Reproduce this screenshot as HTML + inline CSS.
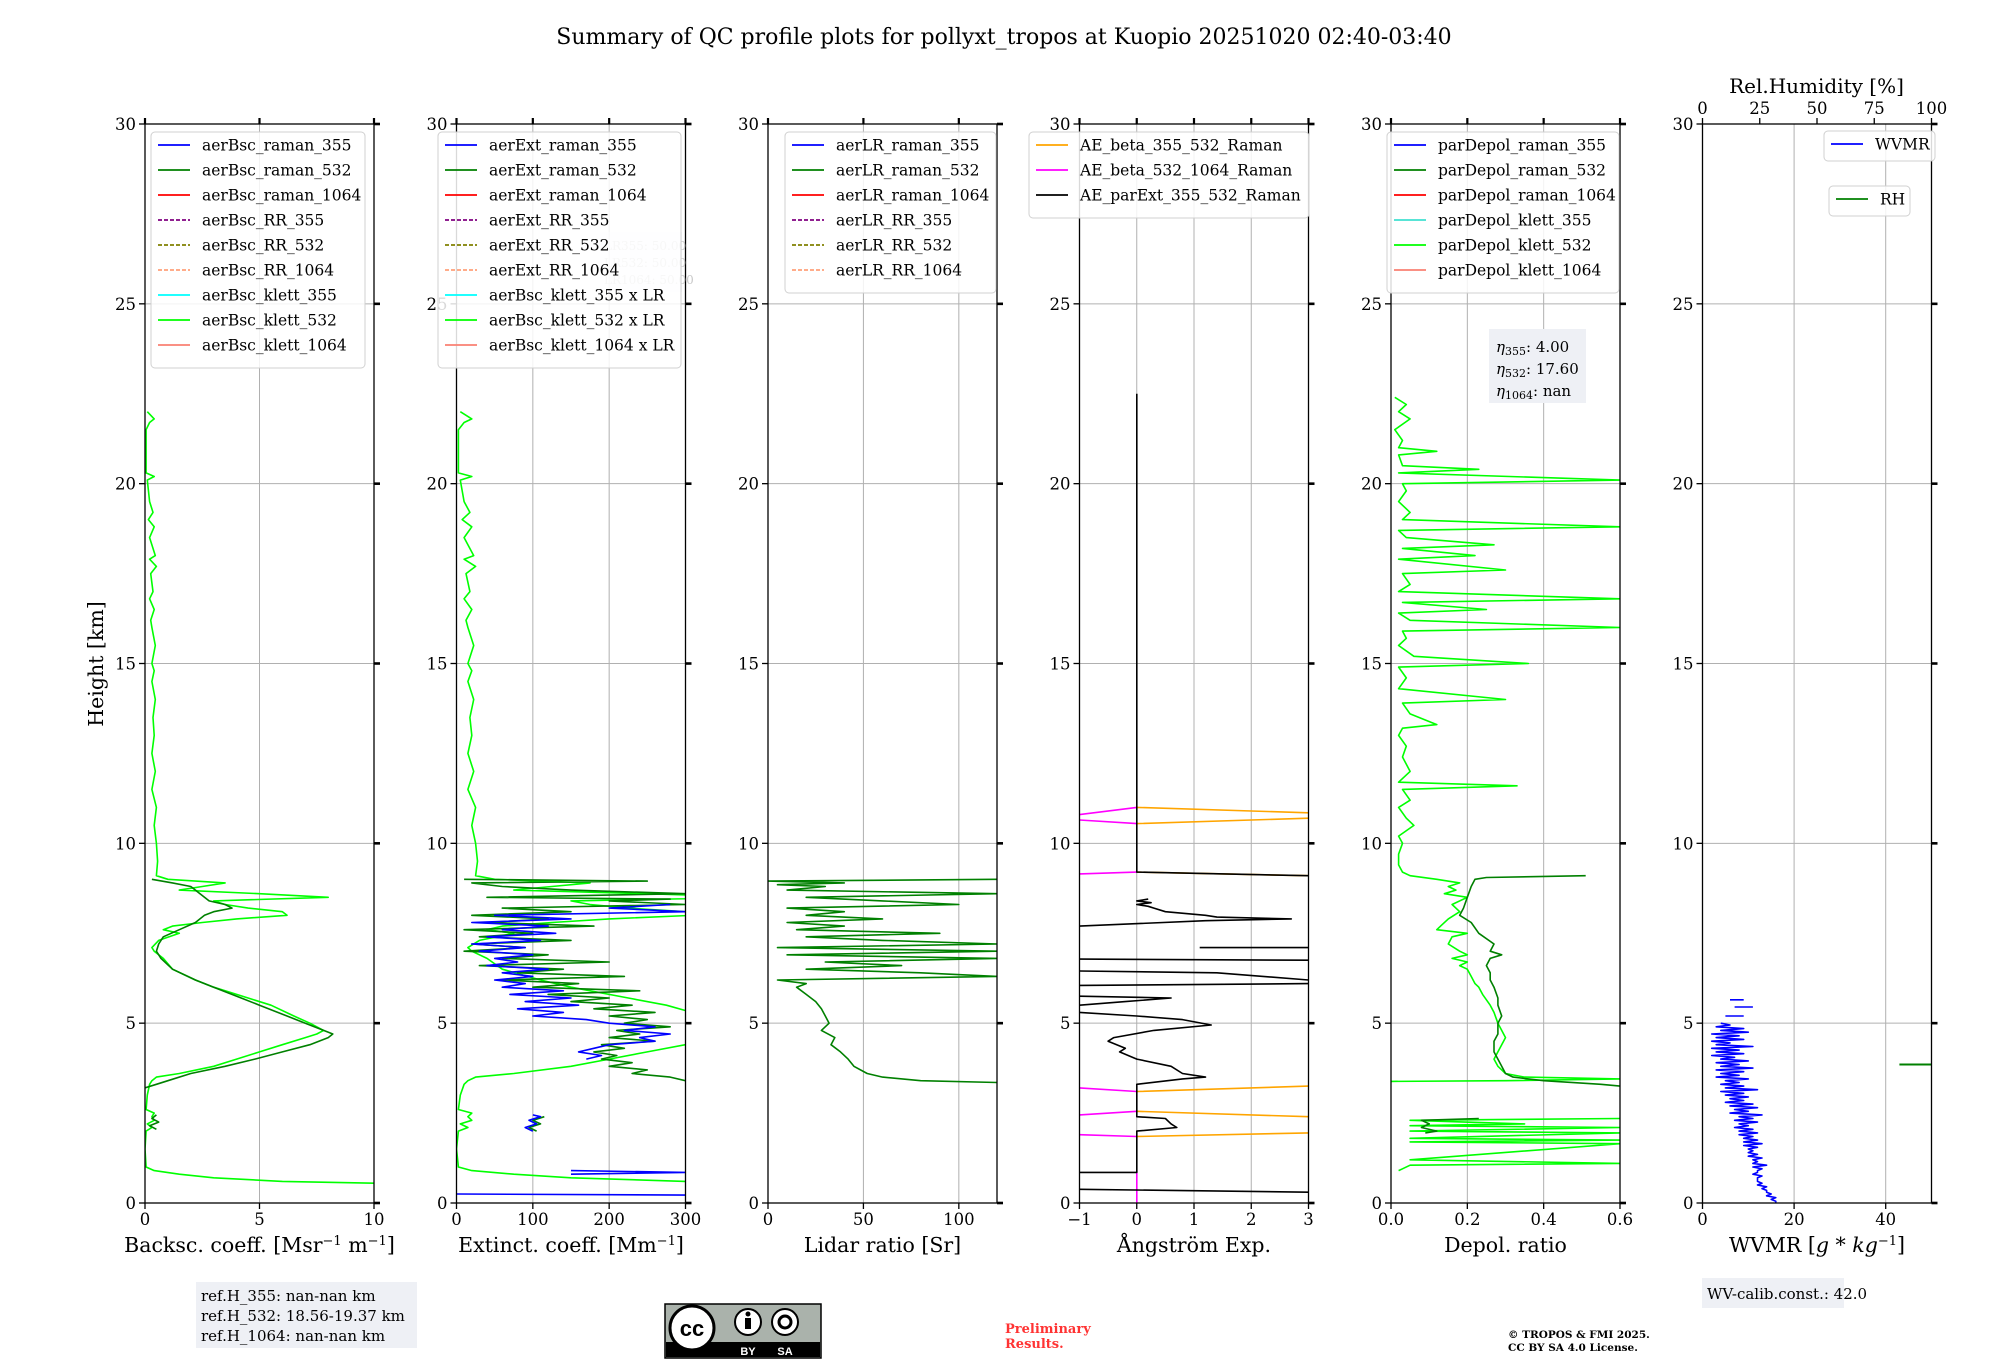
<!DOCTYPE html>
<html><head><meta charset="utf-8">
<style>
html,body{margin:0;padding:0;background:#fff;}
svg{display:block;font-family:"DejaVu Serif","Liberation Serif",serif;}
</style></head>
<body>
<svg id="fig" xmlns="http://www.w3.org/2000/svg" width="2000" height="1360" viewBox="0 0 2000 1360">
<rect x="0" y="0" width="2000" height="1360" fill="#fff"/>
<text x="1004" y="44" font-size="22" text-anchor="middle">Summary of QC profile plots for pollyxt_tropos at Kuopio 20251020 02:40-03:40</text>
<text transform="translate(103,664) rotate(-90)" font-size="20.5" text-anchor="middle">Height [km]</text>
</svg>
<script>
// ---------------- data ----------------
const heightTicks = [0,5,10,15,20,25,30];
// Panel 1: backscatter
const bscKlett532H = [22,21.8,21.7,21.5,20.3,20.2,20.1,19.5,19.2,19.0,18.8,18.5,18.0,17.9,17.7,17.5,17.0,16.8,16.5,16.2,16.0,15.5,15.0,14.8,14.5,14.0,13.5,13.0,12.5,12.0,11.5,11.0,10.5,10.0,9.5,9.1,9.0,8.9,8.8,8.7,8.6,8.5,8.4,8.3,8.2,8.1,8.0,7.9,7.8,7.7,7.6,7.5,7.3,7.1,7.0,6.8,6.5,6.2,6.0,5.7,5.5,5.2,5.0,4.8,4.7,4.6,4.4,4.2,4.0,3.8,3.6,3.5,3.4,3.3,3.0,2.6,2.5,2.4,2.3,2.2,2.1,2.0,1.5,1.0,0.9,0.8,0.7,0.6,0.55];
const bscKlett532V = [0.1,0.4,0.2,0.05,0.05,0.4,0.1,0.2,0.35,0.15,0.4,0.2,0.45,0.2,0.5,0.25,0.35,0.2,0.4,0.25,0.3,0.45,0.3,0.4,0.3,0.45,0.35,0.4,0.3,0.45,0.3,0.5,0.4,0.5,0.55,0.5,1.0,3.5,2.5,1.5,5,8.0,3,3.5,4.5,6.0,6.2,4,2.5,1.2,0.8,1.5,0.6,0.3,0.4,0.8,1.2,2.2,3,4.5,5.5,6.5,7.2,7.8,7.5,7.0,6,5,4,3,1.5,0.5,0.3,0.2,0.1,0.05,0.4,0.3,0.4,0.1,0.3,0.05,0,0.05,0.4,1.5,3,6,10];
const bscRaman532H = [9.0,8.9,8.8,8.6,8.4,8.3,8.2,8.1,8.0,7.8,7.6,7.4,7.2,7.0,6.8,6.5,6.2,6.0,5.7,5.5,5.2,5.0,4.8,4.7,4.6,4.4,4.2,4.0,3.8,3.6,3.4,3.3,3.2];
const bscRaman532V = [0.3,1.2,2.0,2.4,2.8,3.5,3.8,3.0,2.6,2.2,1.5,0.8,0.6,0.5,0.7,1.2,2.2,3.0,4.2,5.0,6.2,7.0,7.8,8.2,8.0,7.2,6.0,4.8,3.5,2.0,1.0,0.5,0.0];
const bscRaman532LowH = [2.45,2.35,2.25,2.15,2.05];
const bscRaman532LowV = [0.5,0.3,0.6,0.2,0.5];
// Panel 2: extinction
const extKlett532H = bscKlett532H;
const extKlett532V = [5,20,10,2.5,2.5,20,5,10,17.5,7.5,20,10,22.5,10,25,12.5,17.5,10,20,12.5,15,22.5,15,20,15,22.5,17.5,20,15,22.5,15,25,20,25,27.5,25,50,175,125,75,250,400,150,175,225,300,310,200,125,60,40,75,30,15,20,40,60,110,150,225,275,325,360,390,375,350,300,250,200,150,75,25,15,10,5,2.5,20,15,20,5,15,2.5,0,2.5,20,75,150,300,500];
const extRaman532H = [9.0,8.95,8.9,8.8,8.7,8.6,8.5,8.45,8.4,8.3,8.2,8.1,8.0,7.9,7.8,7.7,7.6,7.5,7.4,7.3,7.2,7.1,7.0,6.9,6.8,6.7,6.6,6.5,6.4,6.3,6.2,6.1,6.0,5.9,5.8,5.7,5.6,5.5,5.4,5.3,5.2,5.1,5.0,4.9,4.8,4.7,4.6,4.5,4.4,4.3,4.2,4.1,4.0,3.9,3.8,3.7,3.6,3.5,3.4,null,2.4,2.3,2.2,2.1,2.0];
const extRaman532V = [10,250,20,60,150,300,40,280,200,300,60,150,20,120,40,180,10,100,30,150,20,90,10,120,60,200,30,140,80,220,60,160,100,240,120,200,150,230,180,260,200,250,220,280,210,240,200,260,190,220,180,210,190,230,200,250,230,280,300,null,115,100,110,95,105];
const extRaman355H = [8.3,8.2,8.1,8.0,7.9,7.8,7.7,7.6,7.5,7.4,7.3,7.2,7.1,7.0,6.9,6.8,6.7,6.6,6.5,6.4,6.3,6.2,6.1,6.0,5.9,5.8,5.7,5.6,5.5,5.4,5.3,5.2,5.1,5.0,4.9,4.8,4.7,4.6,4.5,4.4,4.3,4.2,4.1,4.0,null,2.45,2.4,2.3,2.2,2.1,2.0,null,0.9,0.85,0.8,null,0.25,0.22];
const extRaman355V = [280,200,300,50,150,20,120,60,130,40,110,20,90,30,100,50,80,40,120,60,100,50,90,60,140,70,150,90,160,80,140,100,170,200,260,220,280,240,260,200,180,160,190,170,null,100,110,95,105,90,100,null,150,300,150,null,0,300];
// Panel 3: lidar ratio
const lr532H = [9.0,8.95,8.9,8.85,8.8,8.7,8.6,8.5,8.4,8.3,8.2,8.1,8.0,7.9,7.8,7.7,7.6,7.5,7.4,7.3,7.2,7.1,7.0,6.9,6.8,6.7,6.6,6.5,6.4,6.3,6.2,6.1,6.0,5.8,5.6,5.4,5.2,5.0,4.8,4.6,4.4,4.2,4.0,3.8,3.6,3.5,3.4,3.35];
const lr532V = [120,0,40,5,30,10,120,20,60,100,10,40,20,60,10,40,15,90,20,60,120,5,120,10,120,30,70,20,80,120,5,20,15,20,25,28,30,32,28,35,33,38,42,45,52,60,80,120];
// Panel 4: Angstrom exponents
const aeParExtH = [22.5,9.2,9.1,null,8.45,8.4,8.35,8.3,8.25,8.2,8.1,8.0,7.95,7.9,7.85,7.7,null,7.1,7.1,null,6.78,6.75,null,6.45,6.4,6.2,null,6.05,6.1,null,5.75,5.7,5.6,5.5,null,5.3,5.2,5.1,4.95,4.8,4.6,4.5,4.3,4.2,4.0,3.8,3.6,3.5,3.45,3.3,2.4,2.35,2.2,2.1,2.0,0.85,0.85,null,0.38,0.3];
const aeParExtV = [0,0,3,null,0.2,0.0,0.25,0.0,0.2,0.3,0.5,1.2,1.4,2.7,1.2,-1,null,1.1,3,null,-1,3,null,-1,1.4,3,null,-1,3,null,-1,0.6,-0.2,-1,null,-1,0,0.8,1.3,0.3,-0.4,-0.5,-0.2,-0.3,0,0.6,0.8,1.2,0.8,0,0,0.5,0.6,0.7,0,0,-1,null,-1,3];
const aeBeta532H = [10.8,11.0,null,10.65,10.55,null,9.15,9.2,null,3.2,3.1,null,2.45,2.55,null,1.9,1.85,null,0.9,0.0];
const aeBeta532V = [-1,0,null,-1,0,null,-1,0,null,-1,0,null,-1,0,null,-1,0,null,0,0];
const aeBeta355H = [11.0,10.85,null,10.55,10.7,null,9.2,9.1,null,3.1,3.25,null,2.55,2.4,null,1.85,1.95];
const aeBeta355V = [0,3,null,0,3,null,0,3,null,0,3,null,0,3,null,0,3];
// Panel 5: depolarisation
const depKlett532H = [22.4,22.2,22.0,21.8,21.5,21.2,21.0,20.9,20.8,20.5,20.4,20.3,20.1,20.0,19.8,19.5,19.2,19.0,18.8,18.7,18.5,18.3,18.2,18.0,17.9,17.6,17.5,17.2,17.0,16.8,16.7,16.5,16.4,16.2,16.0,15.9,15.7,15.5,15.2,15.0,14.9,14.6,14.3,14.0,13.9,13.6,13.3,13.2,13.0,12.7,12.4,12.0,11.7,11.6,11.5,11.2,11.0,10.7,10.5,10.2,10.0,9.7,9.4,9.2,9.1,9.0,8.9,8.8,8.7,8.6,8.5,8.3,8.1,7.9,7.7,7.6,7.5,7.4,7.2,7.0,6.9,6.8,6.7,6.6,6.5,6.3,6.1,6.0,5.8,5.5,5.3,5.0,4.8,4.6,4.4,4.2,4.0,3.8,3.6,3.5,3.45,3.4,3.38,null,2.35,2.3,2.2,2.15,2.1,2.0,1.95,1.8,1.75,1.7,1.65,1.2,1.1,1.05,0.95,0.9];
const depKlett532V = [0.01,0.04,0.02,0.05,0.01,0.03,0.02,0.12,0.02,0.03,0.23,0.02,0.6,0.03,0.04,0.02,0.05,0.03,0.6,0.02,0.04,0.27,0.03,0.22,0.02,0.3,0.03,0.05,0.02,0.6,0.03,0.25,0.02,0.05,0.6,0.03,0.04,0.02,0.06,0.36,0.02,0.04,0.02,0.3,0.03,0.05,0.12,0.03,0.02,0.04,0.03,0.05,0.02,0.33,0.03,0.05,0.02,0.04,0.06,0.02,0.03,0.02,0.02,0.03,0.05,0.12,0.18,0.15,0.17,0.14,0.2,0.16,0.18,0.15,0.13,0.12,0.2,0.16,0.15,0.18,0.2,0.16,0.2,0.18,0.2,0.21,0.22,0.23,0.24,0.26,0.27,0.28,0.29,0.3,0.29,0.28,0.27,0.28,0.3,0.35,0.6,0.3,0.0,null,0.6,0.05,0.35,0.05,0.6,0.05,0.6,0.05,0.6,0.05,0.6,0.05,0.6,0.05,0.03,0.02];
const depRaman532H = [9.1,9.05,9.0,8.8,8.5,8.2,8.0,7.8,7.5,7.2,7.0,6.9,6.8,6.6,6.4,6.2,6.0,5.7,5.5,5.2,5.0,4.7,4.5,4.2,4.0,3.8,3.6,3.5,3.4,3.3,3.25,null,2.35,2.3,2.2,2.1,2.0,1.95];
const depRaman532V = [0.51,0.25,0.22,0.21,0.2,0.19,0.18,0.21,0.23,0.27,0.26,0.29,0.26,0.25,0.26,0.26,0.27,0.28,0.28,0.29,0.28,0.28,0.27,0.27,0.28,0.29,0.3,0.32,0.4,0.55,0.6,null,0.23,0.08,0.1,0.08,0.12,0.09];
// Panel 6: water vapour
const wvmrH = [5.65,5.65,null,5.45,5.45,null,5.2,5.2,null,5.0,4.95,4.9,4.85,4.8,4.75,4.7,4.65,4.6,4.55,4.5,4.45,4.4,4.35,4.3,4.25,4.2,4.15,4.1,4.05,4.0,3.95,3.9,3.85,3.8,3.75,3.7,3.65,3.6,3.55,3.5,3.45,3.4,3.35,3.3,3.25,3.2,3.15,3.1,3.05,3.0,2.95,2.9,2.85,2.8,2.75,2.7,2.65,2.6,2.55,2.5,2.45,2.4,2.35,2.3,2.25,2.2,2.15,2.1,2.05,2.0,1.95,1.9,1.85,1.8,1.75,1.7,1.65,1.6,1.55,1.5,1.45,1.4,1.35,1.3,1.25,1.2,1.15,1.1,1.05,1.0,0.95,0.9,0.85,0.8,0.75,0.7,0.65,0.6,0.55,0.5,0.45,0.4,0.35,0.3,0.25,0.2,0.15,0.1,0.05,0.0];
const wvmrV = [6,9,null,7,11,null,5,9,null,4,6,3,9,4,10,2,8,3,9,2,6,3,11,2,8,3,9,2,7,4,10,3,8,4,11,3,9,4,8,3,10,5,8,4,9,5,12,4,9,5,10,6,9,5,11,6,12,7,10,6,13,8,11,7,12,8,10,7,11,8,12,8,11,9,12,9,13,9,12,10,11,10,12,10,13,11,12,11,14,11,13,12,12,11,13,12,12,12,13,12,14,13,14,14,15,14,16,15,16,16];
const rhH = [3.85,3.85];
const rhV = [86,100];
// axes definitions
const p1Ticks = [0,5,10], p2Ticks = [0,100,200,300], p3Ticks = [0,50,100];
const p4Ticks = [-1,0,1,2,3], p5Ticks = [0,0.2,0.4,0.6], p6Ticks = [0,20,40], rhTicks = [0,25,50,75,100];
const p4Labels = ['\u22121','0','1','2','3'], p5Labels = ['0.0','0.2','0.4','0.6'];

// ---------------- drawing ----------------
const NS = 'http://www.w3.org/2000/svg';
const svg = document.getElementById('fig');
const Y0 = 1203, Y30 = 124;
function yS(h){ return Y0 + (Y30 - Y0) * h / 30; }
function mk(tag, attrs, parent){
  const e = document.createElementNS(NS, tag);
  for (const k in attrs) e.setAttribute(k, attrs[k]);
  (parent || svg).appendChild(e);
  return e;
}
const panels = [];
function makePanel(idx, left, xmin, xmax, ticks, labels, xlabel){
  const W = 229;
  const p = {left, right: left + W, xmin, xmax};
  p.x = v => left + (v - xmin) / (xmax - xmin) * W;
  const g = mk('g', {});
  
  
  p.g = g;
  ticks.forEach(t => {
    const l = mk('line', {x1: p.x(t), x2: p.x(t), y1: Y30, y2: Y0, stroke: '#b0b0b0', 'stroke-width': 1}, g);
    
    
  });
  heightTicks.forEach(h => {
    const l = mk('line', {x1: left, x2: left + W, y1: yS(h), y2: yS(h), stroke: '#b0b0b0', 'stroke-width': 1}, g);
    
    
  });
  const cp = mk('clipPath', {id: 'clip' + idx}, g);
  mk('rect', {x: left, y: Y30, width: W, height: Y0 - Y30}, cp);
  p.data = mk('g', {'clip-path': 'url(#clip' + idx + ')'}, g);
  
  
  const sp = mk('rect', {x: left, y: Y30, width: W, height: Y0 - Y30, fill: 'none', stroke: '#000', 'stroke-width': 1.3}, g);
  
  
  ticks.forEach((t, i) => {
    mk('line', {x1: p.x(t), x2: p.x(t), y1: Y0, y2: Y0 + 6, stroke: '#000', 'stroke-width': 1.3}, g);
    if (idx !== 6) mk('line', {x1: p.x(t), x2: p.x(t), y1: Y30, y2: Y30 - 6, stroke: '#000', 'stroke-width': 2.2}, g);
    const tl = mk('text', {x: p.x(t), y: Y0 + 22, 'font-size': 16.5, 'text-anchor': 'middle'}, g);
    tl.textContent = labels ? labels[i] : String(t);
    
    
  });
  heightTicks.forEach(h => {
    mk('line', {x1: left - 6, x2: left, y1: yS(h), y2: yS(h), stroke: '#000', 'stroke-width': 1.3}, g);
    mk('line', {x1: left + W, x2: left + W + 6, y1: yS(h), y2: yS(h), stroke: '#000', 'stroke-width': 2.6}, g);
    const tl = mk('text', {x: left - 9, y: yS(h) + 6, 'font-size': 16.5, 'text-anchor': 'end'}, g);
    tl.textContent = String(h);
    
    
  });
  const xl = mk('text', {x: left + W / 2, y: Y0 + 49, 'font-size': 20.5, 'text-anchor': 'middle'}, g);
  xl.innerHTML = xlabel;
  
  
  panels[idx] = p;
  return p;
}
function series(p, hs, vs, color, name, width, dash){
  let d = '', pen = false;
  for (let i = 0; i < hs.length; i++){
    if (hs[i] === null || vs[i] === null){ pen = false; continue; }
    d += (pen ? 'L' : 'M') + p.x(vs[i]).toFixed(1) + ',' + yS(hs[i]).toFixed(1);
    pen = true;
  }
  const a = {d, fill: 'none', stroke: color, 'stroke-width': width || 1.6, 'stroke-linejoin': 'round'};
  if (dash) a['stroke-dasharray'] = dash;
  const el = mk('path', a, p.data);
  
  
}
function legend(x, y, w, entries, name, rowH){
  const g = mk('g', {});
  
  
  const rh = rowH || 25;
  mk('rect', {x, y, width: w, height: entries.length * rh + 11, rx: 4, fill: '#fff', 'fill-opacity': 0.85, stroke: '#d0d0d0', 'stroke-width': 1}, g);
  entries.forEach((e, i) => {
    const cy = y + 13 + i * rh;
    const a = {x1: x + 7, x2: x + 39, y1: cy, y2: cy, stroke: e[1], 'stroke-width': 1.8};
    if (e[2]) a['stroke-dasharray'] = '4,2';
    mk('line', a, g);
    const t = mk('text', {x: x + 51, y: cy + 5.5, 'font-size': 15.5}, g);
    t.textContent = e[0];
    
    
  });
}
const L = 145, STEP = 311.5;
const P1 = makePanel(1, L, 0, 10, p1Ticks, null, 'Backsc. coeff. [Msr<tspan dy="-7" font-size="13">\u22121</tspan><tspan dy="7"> m</tspan><tspan dy="-7" font-size="13">\u22121</tspan><tspan dy="7">]</tspan>');
const P2 = makePanel(2, L + STEP, 0, 300, p2Ticks, null, 'Extinct. coeff. [Mm<tspan dy="-7" font-size="13">\u22121</tspan><tspan dy="7">]</tspan>');
const P3 = makePanel(3, L + 2 * STEP, 0, 120, p3Ticks, null, 'Lidar ratio [Sr]');
const P4 = makePanel(4, L + 3 * STEP, -1, 3, p4Ticks, p4Labels, '\u00c5ngstr\u00f6m Exp.');
const P5 = makePanel(5, L + 4 * STEP, 0, 0.6, p5Ticks, p5Labels, 'Depol. ratio');
const P6 = makePanel(6, L + 5 * STEP, 0, 50, p6Ticks, null, 'WVMR [<tspan font-style="italic">g</tspan> * <tspan font-style="italic">kg</tspan><tspan dy="-7" font-size="13">\u22121</tspan><tspan dy="7">]</tspan>');

series(P1, bscKlett532H, bscKlett532V, '#00ff00', 'series-aerBsc-klett-532');
series(P1, bscRaman532H, bscRaman532V, '#008000', 'series-aerBsc-raman-532');
series(P1, bscRaman532LowH, bscRaman532LowV, '#008000', 'series-aerBsc-raman-532-low');
series(P2, extKlett532H, extKlett532V, '#00ff00', 'series-aerBsc-klett-532-x-lr');
series(P2, extRaman532H, extRaman532V, '#008000', 'series-aerExt-raman-532');
series(P2, extRaman355H, extRaman355V, '#0000ff', 'series-aerExt-raman-355');
series(P3, lr532H, lr532V, '#008000', 'series-aerLR-raman-532');
series(P4, aeBeta355H, aeBeta355V, '#ffa500', 'series-AE-beta-355-532');
series(P4, aeBeta532H, aeBeta532V, '#ff00ff', 'series-AE-beta-532-1064');
series(P4, aeParExtH, aeParExtV, '#000000', 'series-AE-parExt-355-532');
series(P5, depKlett532H, depKlett532V, '#00ff00', 'series-parDepol-klett-532');
series(P5, depRaman532H, depRaman532V, '#008000', 'series-parDepol-raman-532');
series(P6, wvmrH, wvmrV, '#0000ff', 'series-wvmr');
const rhX = v => P6.left + v / 100 * 229;
const rhPanel = {x: rhX, data: P6.data};
series(rhPanel, rhH, rhV, '#008000', 'series-rh', 2);
rhTicks.forEach(t => {
  mk('line', {x1: rhX(t), x2: rhX(t), y1: Y30, y2: Y30 - 6, stroke: '#000', 'stroke-width': 1.3});
  const tl = mk('text', {x: rhX(t), y: Y30 - 10, 'font-size': 16.5, 'text-anchor': 'middle'});
  tl.textContent = String(t);
  
  
});
const rhT = mk('text', {x: P6.left + 114, y: 93, 'font-size': 20, 'text-anchor': 'middle'});
rhT.textContent = 'Rel.Humidity [%]';



const ghost = mk('g', {});


mk('rect', {x: 600, y: 232, width: 82, height: 60, fill: '#eef0f5', 'fill-opacity': 0.5}, ghost);
['LR355: 50.00', 'LR532: 50.00', 'LR1064: 50.00'].forEach((s, i) => {
  const t = mk('text', {x: 604, y: 250 + i * 17, 'font-size': 12, fill: '#c8c8c8'}, ghost);
  t.textContent = s;
});

legend(151, 132, 214, [['aerBsc_raman_355','#0000ff'],['aerBsc_raman_532','#008000'],['aerBsc_raman_1064','#ff0000'],['aerBsc_RR_355','#800080',1],['aerBsc_RR_532','#808000',1],['aerBsc_RR_1064','#ffa07a',1],['aerBsc_klett_355','#00ffff'],['aerBsc_klett_532','#00ff00'],['aerBsc_klett_1064','#fa8072']], 'legend-backscatter');
legend(438, 132, 243, [['aerExt_raman_355','#0000ff'],['aerExt_raman_532','#008000'],['aerExt_raman_1064','#ff0000'],['aerExt_RR_355','#800080',1],['aerExt_RR_532','#808000',1],['aerExt_RR_1064','#ffa07a',1],['aerBsc_klett_355 x LR','#00ffff'],['aerBsc_klett_532 x LR','#00ff00'],['aerBsc_klett_1064 x LR','#fa8072']], 'legend-extinction');
legend(785, 132, 211, [['aerLR_raman_355','#0000ff'],['aerLR_raman_532','#008000'],['aerLR_raman_1064','#ff0000'],['aerLR_RR_355','#800080',1],['aerLR_RR_532','#808000',1],['aerLR_RR_1064','#ffa07a',1]], 'legend-lidar-ratio');
legend(1029, 132, 280, [['AE_beta_355_532_Raman','#ffa500'],['AE_beta_532_1064_Raman','#ff00ff'],['AE_parExt_355_532_Raman','#000000']], 'legend-angstrom');
legend(1387, 132, 232, [['parDepol_raman_355','#0000ff'],['parDepol_raman_532','#008000'],['parDepol_raman_1064','#ff0000'],['parDepol_klett_355','#40e0d0'],['parDepol_klett_532','#00ff00'],['parDepol_klett_1064','#fa8072']], 'legend-depol');
legend(1824, 131, 111, [['WVMR','#0000ff']], 'legend-wvmr', 19);
legend(1829, 186, 81, [['RH','#008000']], 'legend-rh', 19);

const eta = mk('g', {});


mk('rect', {x: 1489, y: 329, width: 97, height: 74, fill: '#eef0f5'}, eta);
[['355','4.00'],['532','17.60'],['1064','nan']].forEach((e, i) => {
  const t = mk('text', {x: 1496, y: 352 + i * 22, 'font-size': 15}, eta);
  t.innerHTML = '<tspan font-style="italic">\u03b7</tspan><tspan font-size="11" dy="3">' + e[0] + '</tspan><tspan dy="-3">: ' + e[1] + '</tspan>';
});

const ref = mk('g', {});


mk('rect', {x: 196, y: 1282, width: 221, height: 66, fill: '#eef0f5'}, ref);
['ref.H_355: nan-nan km', 'ref.H_532: 18.56-19.37 km', 'ref.H_1064: nan-nan km'].forEach((s, i) => {
  const t = mk('text', {x: 201, y: 1301 + i * 20, 'font-size': 15}, ref);
  t.textContent = s;
});
const wv = mk('g', {});


mk('rect', {x: 1702, y: 1278, width: 142, height: 30, fill: '#eef0f5'}, wv);
const wvt = mk('text', {x: 1707, y: 1299, 'font-size': 15}, wv);
wvt.textContent = 'WV-calib.const.: 42.0';

const cc = mk('g', {});


mk('rect', {x: 665, y: 1304, width: 156, height: 54, fill: '#aab2ab', stroke: '#000', 'stroke-width': 1.5}, cc);
mk('rect', {x: 666, y: 1342, width: 154, height: 15, fill: '#000'}, cc);
mk('circle', {cx: 692, cy: 1328, r: 22, fill: '#fff', stroke: '#000', 'stroke-width': 3}, cc);
const cct = mk('text', {x: 692, y: 1336, 'font-size': 22, 'font-weight': 'bold', 'text-anchor': 'middle', 'font-family': 'Liberation Sans, sans-serif'}, cc);
cct.textContent = 'cc';
mk('circle', {cx: 748, cy: 1322, r: 13, fill: '#fff', stroke: '#000', 'stroke-width': 2}, cc);
mk('circle', {cx: 785, cy: 1322, r: 13, fill: '#fff', stroke: '#000', 'stroke-width': 2}, cc);
mk('circle', {cx: 748, cy: 1314, r: 2.5, fill: '#000'}, cc);
mk('rect', {x: 745, y: 1318, width: 6, height: 11, fill: '#000'}, cc);
mk('circle', {cx: 785, cy: 1322, r: 6, fill: 'none', stroke: '#000', 'stroke-width': 3}, cc);
const by = mk('text', {x: 748, y: 1355, 'font-size': 11, fill: '#fff', 'font-weight': 'bold', 'text-anchor': 'middle', 'font-family': 'Liberation Sans, sans-serif'}, cc);
by.textContent = 'BY';
const sa = mk('text', {x: 785, y: 1355, 'font-size': 11, fill: '#fff', 'font-weight': 'bold', 'text-anchor': 'middle', 'font-family': 'Liberation Sans, sans-serif'}, cc);
sa.textContent = 'SA';

const pr = mk('text', {x: 1005, y: 1333, 'font-size': 13, fill: '#ff3333', 'font-weight': 'bold'});
pr.innerHTML = '<tspan x="1005">Preliminary</tspan><tspan x="1005" dy="15">Results.</tspan>';


const cp = mk('text', {x: 1508, y: 1338, 'font-size': 10.5, 'font-weight': 'bold'});
cp.innerHTML = '<tspan x="1508">\u00a9 TROPOS &amp; FMI 2025.</tspan><tspan x="1508" dy="13">CC BY SA 4.0 License.</tspan>';


</script>
</body></html>
